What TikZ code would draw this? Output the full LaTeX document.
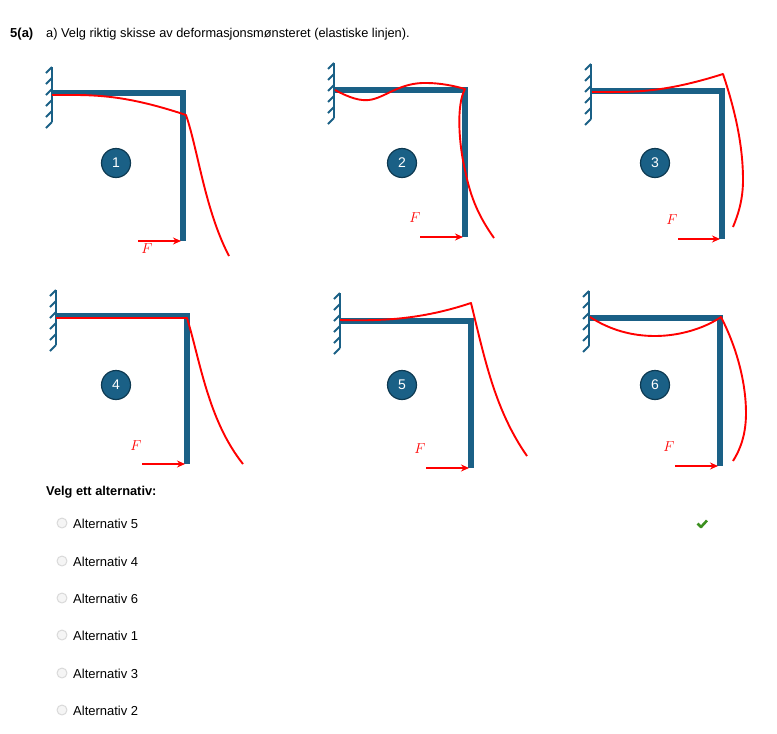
\documentclass[tikz,border=0pt]{standalone}
\usepackage{fontspec}
\usetikzlibrary{arrows.meta}
\setmainfont{Liberation Sans}
\definecolor{beamblue}{HTML}{1A6086}
\definecolor{darkrim}{HTML}{0E3A52}
\definecolor{okgreen}{HTML}{3C9020}
\tikzset{
	beam/.style={beamblue,line width=6pt,line join=miter},
	hatch/.style={beamblue,line width=1.8pt},
	defl/.style={red,line width=1.9pt},
	force/.style={red,line width=1.9pt,-{Stealth[length=8pt,width=7pt]}},
	numdot/.style={circle,draw=darkrim,line width=1.2pt,fill=beamblue,text=white,minimum size=29pt,inner sep=0pt,font=\fontsize{14}{16}\selectfont},
	forcelabel/.style={red,font=\fontsize{14}{16}\selectfont},
	radio/.style={circle,draw=black!15,fill=black!4,line width=1pt,minimum size=10pt,inner sep=0pt},
	optlabel/.style={right,inner sep=0pt,font=\fontsize{13}{15}\selectfont},
	headlabel/.style={right,inner sep=0pt,font=\fontsize{12.8}{15}\selectfont},
}
\begin{document}
\begin{tikzpicture}[x=1pt,y=-1pt,line join=round,line cap=butt,>=stealth]
	\useasboundingbox (0,0) rectangle (777,734);
	% wall x, wall top, beam y, corner x, bottom y, dot x, dot y, number, arrow start, label x, label y
	\foreach \wx/\wt/\by/\cx/\ey/\dx/\dy/\n/\as/\lx/\ly in {
		52/67/93/183/241/116/163/1/138/147/249,
		334/63/90/465/237/402/163/2/420/415/218,
		591/64/91/722/239/655/163/3/678/672/220,
		56/290/316/187/464/116/385/4/142/136/446,
		340/293/321/471/468/402/385/5/426/420/449,
		589/291/318/720/466/655/385/6/675/669/447}{
		\draw[hatch] (\wx,\wt) -- (\wx,\wt+55);
		\foreach \i in {0,...,5}
			\draw[hatch] (\wx,\wt+\i*11) -- (\wx-6,\wt+\i*11+6);
		\draw[beam] (\wx,\by) -- (\cx,\by) -- (\cx,\ey);
		\node[numdot] (dot\n) at (\dx,\dy) {\n};
		\node[forcelabel] (F\n) at (\lx,\ly) {$F$};
		\coordinate (tail\n) at (\as,\ey);
		\coordinate (tip\n) at (\cx-2,\ey);
		\draw[force] (tail\n) -- (tip\n);
	}
	% elastiske linjer
	\draw[defl] (52,95) .. controls (90,95) and (120,93) .. (186,115)
		.. controls (198,150) and (205,210) .. (229,256);
	\draw[defl] (335,90) .. controls (350,98) and (360,101) .. (369,100)
		.. controls (385,98) and (400,82) .. (427,83) .. controls (440,83) and (455,86) .. (465,89)
		.. controls (456,105) and (459,145) .. (465,170) .. controls (471,200) and (480,218) .. (494,238);
	\draw[defl] (592,92) .. controls (630,92) and (660,94) .. (723,74)
		.. controls (735,110) and (743,145) .. (743,180) .. controls (743,200) and (738,215) .. (733,227);
	\draw[defl] (56,318) -- (187,318) .. controls (200,360) and (208,420) .. (243,464);
	\draw[defl] (340,320) .. controls (380,321) and (420,320) .. (471,303)
		.. controls (485,360) and (495,410) .. (527,456);
	\draw[defl] (590,317) .. controls (610,330) and (632,336) .. (655,336)
		.. controls (680,336) and (705,328) .. (721,317)
		.. controls (738,350) and (746,385) .. (746,413) .. controls (746,435) and (740,450) .. (733,461);
	% tekst
	\node[headlabel,font=\fontsize{13}{15}\selectfont\bfseries] (qnum) at (10,34) {5(a)};
	\node[headlabel] (qtext) at (46,34) {a) Velg riktig skisse av deformasjonsmønsteret (elastiske linjen).};
	\node[headlabel,font=\fontsize{12.8}{15}\selectfont\bfseries] (choose) at (46,492) {Velg ett alternativ:};
	\foreach \y/\n in {523/5,561/4,598/6,635/1,673/3,710/2}{
		\node[radio] (radio\n) at (62,\y) {};
		\node[optlabel] (opt\n) at (73,\y+1) {Alternativ \n};
	}
	\draw[okgreen,line width=2.6pt] (697.5,523.5) -- (701,527) -- (707,520.5);
\end{tikzpicture}
\end{document}
